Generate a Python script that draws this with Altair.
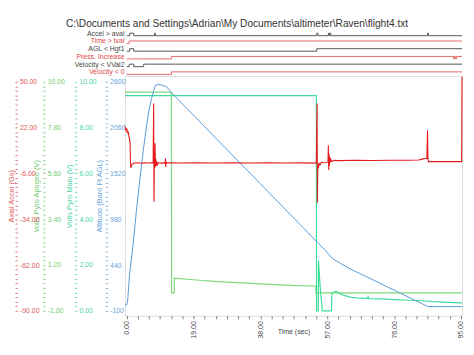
import json
import altair as alt
import pandas as pd

TITLE = r"C:\Documents and Settings\Adrian\My Documents\altimeter\Raven\flight4.txt"

# ---------------- analog series (time in s) ----------------
accel_t = [-0.5, -0.2, 0.0, 0.2, 0.4, 0.6, 0.8, 0.95, 1.05, 1.15, 1.3, 1.6, 2.0, 3.0, 4.0, 5.0, 6.0, 7.0, 7.5,
           7.65, 7.75, 7.85, 7.95, 8.05, 8.15, 8.25, 8.35, 8.5, 8.7, 9.0, 9.5, 10.0, 10.9, 11.0, 11.1, 11.2, 11.5,
           12.5, 15, 20, 25, 30, 35, 40, 45, 50, 53.9, 54.1, 54.2, 54.3, 54.45, 54.6, 54.9, 55.3, 56.0, 56.8,
           57.2, 57.3, 57.4, 57.5, 57.6, 57.7, 57.8, 58.0, 58.3, 58.8, 60, 65, 70, 75, 80, 83, 84.5, 85.3, 85.5,
           85.6, 85.75, 86.0, 88, 92, 95.0, 95.2, 95.3]
accel_v = [22.7, 20.3, 21.5, 18.5, 19.7, 16.7, 14.8, 12.4, 2.1, -2.7, -1.5, -0.3, 0.3, 0.5, 0.2, 0.4, 0.3, 0.5, 0.3,
           36.7, -23.3, 4.0, -2.7, 12.4, -2.0, 3.0, -1.5, 1.5, -0.8, 0.6, 0.2, 0.4, 0.3, 3.3, -2.1, 1.0, 0.3,
           0.4, 0.3, 0.5, 0.3, 0.4, 0.3, 0.4, 0.3, 0.4, 0.3, 36.7, -24.0, -1.5, -3.0, 0.5, -1.0, 0.8, 0.5, 0.6,
           1.0, 11.2, -4.0, 6.0, -1.5, 4.0, 0.5, 2.5, 1.2, 2.0, 1.8, 2.0, 1.9, 2.0, 2.0, 2.2, 3.0, 3.2, 20.3,
           3.0, 1.0, 1.3, 1.2, 1.3, 1.2, 1.2, 53.0]

apogee_t = [-0.5, 12.7, 12.75, 13.5, 13.55, 19.8, 26.0, 33.9, 41.0, 48.0, 53.7, 53.8, 95.3]
apogee_v = [9.5, 9.5, -0.14, -0.14, 0.57, 0.48, 0.40, 0.33, 0.27, 0.21, 0.19, -0.14, -0.14]

main_t = [-0.5, 53.9, 53.95, 54.45, 54.5, 54.7, 55.0, 55.3, 55.5, 55.6, 58.2, 58.3, 58.6, 59.5, 60.5, 62.0,
          63.5, 66.0, 68.5, 68.6, 68.8, 72.0, 76.0, 80.0, 84.0, 87.0, 90.0, 93.0, 95.3]
main_v = [9.4, 9.4, 0.0, 0.0, 2.2, 1.7, 1.0, 0.5, 0.2, 0.0, 0.0, 0.72, 0.8, 0.85, 0.76, 0.66,
          0.6, 0.55, 0.54, 0.62, 0.53, 0.52, 0.49, 0.46, 0.44, 0.40, 0.38, 0.36, 0.35]

alt_t = [-0.5, 0.0, 0.3, 0.8, 1.7, 2.7, 3.7, 4.7, 5.65, 6.4, 7.06, 7.7, 8.2, 9.0, 9.6, 10.5, 11.3, 12.7,
         20.0, 30.0, 40.0, 50.0, 54.2, 56.5, 58.5, 63.0, 68.6, 73.0, 77.7, 82.0, 85.6, 95.3]
alt_v = [-30, -30, 40, 330, 640, 1060, 1440, 1790, 2086, 2280, 2402, 2500, 2560, 2570, 2565, 2555, 2542, 2472,
         2162, 1737, 1312, 886, 707, 610, 514, 405, 293, 204, 110, 23, -50, -50]

# ---------------- digital lanes ----------------
lane_names = ["Accel > aval", "Time > tval", "AGL < Hgt1", "Press. Increase", "Velocity < VVal2", "Velocity < 0"]
lane_colors = ["#555555", "#e46a6a", "#555555", "#e46a6a", "#555555", "#e46a6a"]
lane_t = [
    [0, 0.85, 2.0, 7.9, 8.15, 54.0, 54.35, 57.3, 57.55, 57.7, 58.0, 85.5, 85.75, 95.3],
    [0, 0.7, 95.3],
    [0, 0.85, 2.0, 54.0, 95.3],
    [0, 12.7, 92.9, 93.1, 93.5, 93.7, 95.3],
    [0, 0.7, 2.0, 4.8, 95.3],
    [0, 12.7, 95.3],
]
lane_level = [
    [0, 1, 0, 1, 0, 1, 0, 1, 0, 1, 0, 1, 0, 0],
    [0, 1, 1],
    [0, 1, 0, 1, 1],
    [0, 1, 0, 1, 0, 1, 1],
    [0, 1, 0, 1, 1],
    [0, 1, 1],
]

# ---------------- axis tick labels ----------------
x_ticks = [0, 19, 38, 57, 76, 95]
accel_ticks = [-90, -62, -34, -6, 22, 50]
apogee_ticks = [-1, 1.2, 3.4, 5.6, 7.8, 10]
main_ticks = [0, 2, 4, 6, 8, 10]
alt_ticks = [-100, 440, 980, 1520, 2060, 2600]

FONT = "Liberation Sans"
W, H = 340, 242
XDOM = [-0.5, 95.3]
MINUS = "\u2212"


def minor(ticks, n):
    out = []
    for a, b in zip(ticks[:-1], ticks[1:]):
        for k in range(n):
            out.append(round(a + (b - a) * k / n, 6))
    out.append(ticks[-1])
    return out


def major_expr(ticks, fmt):
    arr = json.dumps([float(v) for v in ticks])
    return (f"indexof({arr}, datum.value) >= 0 ? "
            f"replace(format(datum.value, '{fmt}'), '{MINUS}', '-') : ''")


def yaxis(ticks, fmt, offset, color, title, title_x):
    return alt.Axis(
        orient="left", offset=offset, values=minor(ticks, 10), labelExpr=major_expr(ticks, fmt),
        domain=False, grid=False, tickSize=2.5, tickColor=color, tickWidth=1, tickOpacity=0.8,
        labelAlign="left", labelPadding=-4.5, labelBaseline="middle", labelColor=color,
        labelFont=FONT, labelFontSize=7, labelOverlap=False,
        title=title, titleColor=color, titleFont=FONT, titleFontSize=7.5, titleFontWeight="normal",
        titleAngle=270, titleX=title_x, titleY=H / 2, titleAlign="center", titleBaseline="middle",
    )


xscale = alt.Scale(domain=XDOM, nice=False, zero=False)
xaxis = alt.Axis(
    orient="bottom",
    values=minor(x_ticks, 6), labelExpr=major_expr(x_ticks, ".2f"), labelAngle=270,
    labelAlign="right", labelBaseline="middle",
    labelFont=FONT, labelFontSize=7, labelColor="#444", labelOverlap=False, labelPadding=2,
    tickSize=3, tickColor="#777", domain=False, grid=False,
    title="Time (sec)", titleFont=FONT, titleFontSize=7, titleFontWeight="normal", titleColor="#444",
    titleX=W / 2, titleY=16, titleBaseline="middle", titleAlign="center",
)
X = alt.X("t:Q", scale=xscale, axis=xaxis)

# lanes dataframe
rows = []
for i, name in enumerate(lane_names):
    for t, lv in zip(lane_t[i], lane_level[i]):
        rows.append({"lane": name, "t": t, "y": -i - (1 - lv) * 0.32})
lanes_df = pd.DataFrame(rows)

lane_label_expr = f"{json.dumps(lane_names)}[-datum.value]"
lanes = alt.Chart(lanes_df).mark_line(interpolate="step-after", strokeWidth=1, clip=False).encode(
    x=X,
    y=alt.Y("y:Q", scale=alt.Scale(domain=[-5, 0], range=[-4, -43], nice=False, zero=False),
            axis=alt.Axis(orient="left", values=[0, -1, -2, -3, -4, -5], labelExpr=lane_label_expr,
                          domain=False, ticks=False, grid=False, labelPadding=1, labelFont=FONT,
                          labelFontSize=7, labelOverlap=False,
                          labelColor={"condition": {"test": "abs(datum.value) % 2 == 1", "value": "#e04848"},
                                      "value": "#444444"},
                          title=None)),
    color=alt.Color("lane:N", scale=alt.Scale(domain=lane_names, range=lane_colors), legend=None),
)


def series(t, v, color, width, ydom, axis):
    df = pd.DataFrame({"t": t, "v": v})
    return alt.Chart(df).mark_line(color=color, strokeWidth=width).encode(
        x=X,
        y=alt.Y("v:Q", scale=alt.Scale(domain=ydom, nice=False, zero=False), axis=axis),
    )


apogee = series(apogee_t, apogee_v, "#7fd87f", 1.2, [-1.238, 10.286],
                yaxis(apogee_ticks, ".2f", 80.5, "#74cc74", "Volts Pyro Apogee (V)", -8.5))
mainp = series(main_t, main_v, "#3ddc9a", 1.2, [-0.216, 10.26],
               yaxis(main_ticks, ".2f", 48.5, "#4fd6a6", "Volts Pyro Main (V)", -7.5))
altitude = series(alt_t, alt_v, "#5b9bd5", 1.0, [-158, 2670],
                  yaxis(alt_ticks, "d", 17.5, "#6aa6dc", "Altitude (Baro Ft AGL)", -8.5))
accel = series(accel_t, accel_v, "#e31a1c", 1.1, [-93.0, 53.6],
               yaxis(accel_ticks, ".2f", 108.5, "#e05a5a", "Axial Accel (Gs)", -6))

chart = alt.layer(lanes, apogee, mainp, altitude, accel).resolve_scale(y="independent").properties(
    width=W, height=H,
    autosize=alt.AutoSizeParams(type="none"),
    padding={"left": 118, "top": 67, "right": 4, "bottom": 22},
    title=alt.TitleParams(TITLE, font=FONT, fontSize=10.2, fontWeight="normal", color="#333333",
                          anchor="middle", dx=-57, dy=4),
).configure_view(stroke="#999999", strokeWidth=1).configure(background="white")

chart.save("out.html", embed_options={"renderer": "svg", "actions": False})
